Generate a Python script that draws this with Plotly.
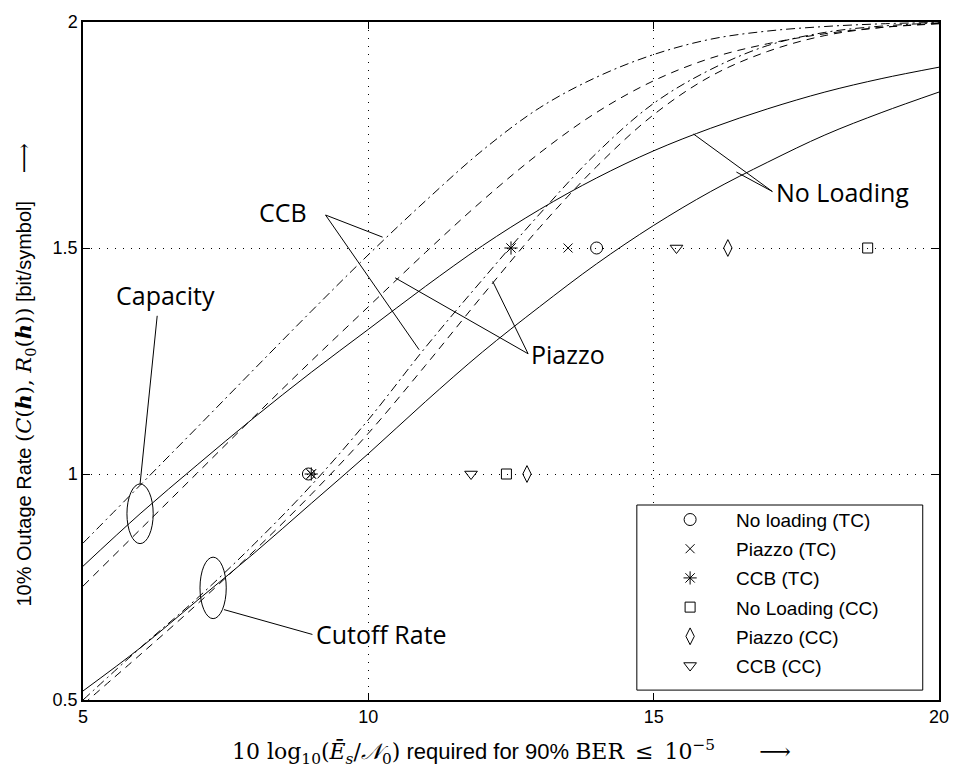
import plotly.graph_objects as go

# ---- data -------------------------------------------------------------
# SNR grid [dB] for all rate curves
snr_db = [5, 6, 7, 8, 9, 10, 11, 12, 13, 14, 15, 16, 17, 18, 19, 20]

# 10% outage capacity
cap_noload = [0.796, 0.912, 1.02, 1.125, 1.225, 1.32, 1.415, 1.505, 1.585, 1.655, 1.715, 1.765, 1.808, 1.845, 1.875, 1.90]
cap_piazzo = [0.752, 0.877, 1.002, 1.127, 1.25, 1.37, 1.49, 1.605, 1.71, 1.80, 1.87, 1.92, 1.952, 1.974, 1.988, 1.996]
cap_ccb = [0.847, 0.975, 1.103, 1.232, 1.36, 1.485, 1.604, 1.716, 1.81, 1.878, 1.928, 1.962, 1.98, 1.99, 1.996, 1.999]

# 10% outage cutoff rate
cut_noload = [0.52, 0.615, 0.72, 0.825, 0.935, 1.045, 1.16, 1.27, 1.37, 1.465, 1.55, 1.625, 1.69, 1.75, 1.80, 1.845]
cut_piazzo = [0.49, 0.60, 0.712, 0.83, 0.955, 1.09, 1.24, 1.395, 1.545, 1.68, 1.795, 1.88, 1.935, 1.97, 1.988, 1.997]
cut_ccb = [0.50, 0.615, 0.725, 0.845, 0.975, 1.12, 1.28, 1.43, 1.575, 1.71, 1.82, 1.895, 1.948, 1.977, 1.991, 1.998]

# required SNR of the coded systems at the two target rates
target_rate = [1.0, 1.5]
noload_tc = [8.95, 14.0]
piazzo_tc = [9.0, 13.5]
ccb_tc = [9.0, 12.5]
noload_cc = [12.42, 18.75]
piazzo_cc = [12.78, 16.3]
ccb_cc = [11.8, 15.4]

x_ticks = [5, 10, 15, 20]
y_ticks = [0.5, 1, 1.5, 2]

# ---- styles -----------------------------------------------------------
SANS = "Liberation Sans, Arial, sans-serif"
LABEL = "Open Sans, DejaVu Sans, sans-serif"
SERIF = "DejaVu Serif, Liberation Serif, serif"
DASH = "8px,6px"
DASHDOT = "9px,4px,2px,4px"

fig = go.Figure()

curves = [
    (cap_noload, "solid"), (cap_piazzo, DASH), (cap_ccb, DASHDOT),
    (cut_noload, "solid"), (cut_piazzo, DASH), (cut_ccb, DASHDOT),
]
for ys, dash in curves:
    fig.add_trace(go.Scatter(
        x=snr_db, y=ys, mode="lines", showlegend=False, hoverinfo="skip",
        line=dict(color="black", width=1, dash=dash, shape="spline", smoothing=1.0),
    ))

markers = [
    ("No loading (TC)", noload_tc, "circle-open", 12),
    ("Piazzo (TC)", piazzo_tc, "x-thin-open", 9),
    ("CCB (TC)", ccb_tc, "asterisk-open", 11),
    ("No Loading (CC)", noload_cc, "square-open", 10),
    ("Piazzo (CC)", piazzo_cc, "diamond-tall-open", 12),
    ("CCB (CC)", ccb_cc, "triangle-down-open", 11),
]
for i, (name, xs, sym, size) in enumerate(markers):
    fig.add_trace(go.Scatter(
        x=xs, y=target_rate, mode="markers", name=name, legendgroup=f"g{i}",
        marker=dict(symbol=sym, size=size, color="black", line=dict(color="black", width=1)),
    ))

# ---- annotation labels with leader lines --------------------------------
def leader(x0, y0, x1, y1):
    fig.add_shape(type="line", xref="x", yref="y", x0=x0, y0=y0, x1=x1, y1=y1,
                  line=dict(color="black", width=1))

def ellipse(xc, yc, rx, ry):
    fig.add_shape(type="circle", xref="x", yref="y", x0=xc - rx, x1=xc + rx,
                  y0=yc - ry, y1=yc + ry, line=dict(color="black", width=1))

def label(x, y, text, anchor="center"):
    fig.add_annotation(x=x, y=y, xref="x", yref="y", text=text, showarrow=False,
                       xanchor=anchor, font=dict(family=LABEL, size=25, color="black"))

ellipse(6.0, 0.912, 0.23, 0.066)
leader(6.0, 0.978, 6.3, 1.35)
label(6.45, 1.395, "Capacity")

ellipse(7.28, 0.748, 0.23, 0.068)
leader(7.47, 0.70, 9.02, 0.645)
label(9.05, 0.645, "Cutoff Rate", "left")

label(8.5, 1.58, "CCB")
leader(9.25, 1.573, 10.25, 1.524)
leader(9.25, 1.573, 10.89, 1.275)

label(12.82, 1.266, "Piazzo", "left")
leader(12.80, 1.266, 10.47, 1.434)
leader(12.80, 1.266, 12.18, 1.426)

label(17.1, 1.625, "No Loading", "left")
leader(17.08, 1.625, 15.7, 1.752)
leader(17.08, 1.625, 16.45, 1.668)

# opaque legend box
fig.add_shape(type="rect", xref="paper", yref="paper", x0=0.647, x1=0.981, y0=0.0146, y1=0.2876,
              line=dict(color="black", width=1), fillcolor="white", layer="above")

# ---- axis titles --------------------------------------------------------
def serif(s, size):
    return f'<span style="font-family:{SERIF};font-size:{size}px">{s}</span>'

xtitle = (serif("10 log<sub>10</sub>(<i>Ē<sub>s</sub></i>/<i>𝒩</i><sub>0</sub>)", 22)
          + " required for 90% " + serif("BER\u2002≤\u200210<sup>−5</sup>", 22)
          + "\u2003\u2003" + serif("⟶", 22))
ytitle = ("10% Outage Rate " + serif("(<i>C</i>(<b><i>h</i></b>), <i>R</i><sub>0</sub>(<b><i>h</i></b>))", 21)
          + " [bit/symbol]     " + serif("⟶", 21))

fig.add_annotation(xref="paper", yref="paper", x=0.5, y=0, yanchor="top", yshift=-34,
                   text=xtitle, showarrow=False, font=dict(family=SANS, size=22, color="black"))
fig.add_annotation(xref="paper", yref="paper", x=0, y=0.48, xanchor="center", xshift=-58,
                   textangle=-90, text=ytitle, showarrow=False,
                   font=dict(family=SANS, size=20, color="black"))

axis_common = dict(
    showline=True, linecolor="black", linewidth=1.5, mirror="allticks",
    ticks="inside", ticklen=7, tickcolor="black", tickwidth=1,
    showgrid=True, gridcolor="black", gridwidth=1, griddash="1px,7px",
    zeroline=False, tickfont=dict(family=SANS, size=18, color="black"),
)
fig.update_xaxes(range=[5, 20], tickvals=x_ticks, ticktext=[str(v) for v in x_ticks], **axis_common)
fig.update_yaxes(range=[0.5, 2], tickvals=y_ticks, ticktext=[f"{v:g}" for v in y_ticks], **axis_common)

fig.update_layout(
    width=961, height=777,
    margin=dict(l=83, r=13, t=15, b=77),
    plot_bgcolor="white", paper_bgcolor="white",
    legend=dict(x=0.6555, y=0.294, xanchor="left", yanchor="top", bgcolor="rgba(0,0,0,0)",
                borderwidth=0, tracegroupgap=1.5, font=dict(family=SANS, size=19, color="black"),
                itemwidth=82),
)

fig.write_html("out.html")
